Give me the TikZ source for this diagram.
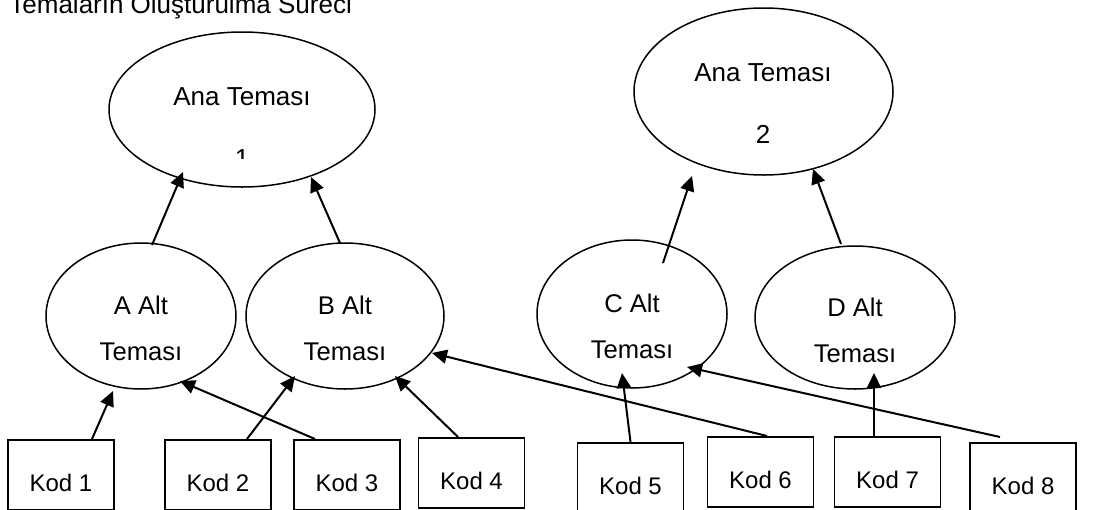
\documentclass[tikz,border=0pt]{standalone}
\usepackage{fontspec}
\setmainfont{Liberation Sans}
\usetikzlibrary{arrows.meta,shapes.geometric}

\tikzset{
    tema/.style={draw, ellipse, line width=0.75pt, inner sep=0pt, outer sep=0pt},
    yazi/.style={align=center, inner sep=0pt, font=\fontsize{12.8}{23}\selectfont},
    anayazi/.style={align=center, inner sep=0pt, font=\fontsize{13}{31}\selectfont},
    kod/.style={draw, rectangle, line width=0.75pt, anchor=north, minimum width=53pt,
        minimum height=35pt, inner sep=0pt, text height=16.6pt, text depth=0pt},
    ok/.style={-{Triangle[length=7.5pt,width=7pt]}, line width=1pt},
}

\begin{document}
\begin{tikzpicture}[x=0.5pt, y=-0.5pt, font=\fontsize{12}{14}\selectfont]
            \useasboundingbox (0,0) rectangle (1101,509);
            \node[anchor=base west, inner sep=0pt, font=\fontsize{13}{15}\selectfont] (baslik) at (9,13) {Temaların Oluşturulma Süreci};

            \node[tema, minimum width=133pt, minimum height=77.5pt] (ana1) at (242,109.5) {};
            \node[tema, minimum width=129.5pt, minimum height=83.5pt] (ana2) at (763.5,91.5) {};
            \node[tema, minimum width=95pt, minimum height=73pt] (a) at (141,316) {};
            \node[tema, minimum width=99pt, minimum height=73pt] (b) at (345,316) {};
            \node[tema, minimum width=95pt, minimum height=74pt] (c) at (632,314) {};
            \node[tema, minimum width=100pt, minimum height=71.5pt] (d) at (855,317.5) {};

            \begin{scope}
                \clip (110,40) rectangle (375,158);
                \node[anayazi] (ana1-yazi) at (242,128) {Ana Teması\\1};
            \end{scope}
            \node[anayazi] (ana2-yazi) at (763,104) {Ana Teması\\2};
            \node[yazi] (a-yazi) at (141,328) {A Alt\\Teması};
            \node[yazi] (b-yazi) at (345,328) {B Alt\\Teması};
            \node[yazi] (c-yazi) at (632,326) {C Alt\\Teması};
            \node[yazi] (d-yazi) at (855,330) {D Alt\\Teması};

            \node[kod] (k1) at (61,439) {Kod 1};
            \node[kod] (k2) at (218,439) {Kod 2};
            \node[kod] (k3) at (347,439) {Kod 3};
            \node[kod] (k4) at (471.5,437) {Kod 4};
            \node[kod] (k5) at (630.5,442) {Kod 5};
            \node[kod] (k6) at (760.5,436) {Kod 6};
            \node[kod] (k7) at (887.5,436) {Kod 7};
            \node[kod] (k8) at (1023,442) {Kod 8};

            \draw[ok] ([shift={(11,-71)}]a.center) -- ([shift={(-59,62.5)}]ana1.center);
            \draw[ok] ([shift={(-5,-73)}]b.center) -- ([shift={(69,67.5)}]ana1.center);
            \draw[ok] ([shift={(31,-51)}]c.center) -- ([shift={(-71.5,84.5)}]ana2.center);
            \draw[ok] ([shift={(-14,-73.5)}]d.center) -- ([shift={(49.5,77.5)}]ana2.center);

            \draw[ok] ([shift={(31,0)}]k1.north) -- ([shift={(-28,75)}]a.center);
            \draw[ok] ([shift={(-32,0)}]k3.north) -- ([shift={(39,65)}]a.center);
            \draw[ok] ([shift={(29,0)}]k2.north) -- ([shift={(-50,60)}]b.center);
            \draw[ok] ([shift={(-13.5,0)}]k4.north) -- ([shift={(50,60)}]b.center);
            \draw[ok] ([shift={(6.5,0)}]k6.north) -- ([shift={(87,37)}]b.center);
            \draw[ok] (k5.north) -- ([shift={(-10,59)}]c.center);
            \draw[ok] ([shift={(-23,-5)}]k8.north) -- ([shift={(55,53)}]c.center);
            \draw[ok] ([shift={(-13.5,0)}]k7.north) -- ([shift={(19,55.5)}]d.center);
\end{tikzpicture}
\end{document}
